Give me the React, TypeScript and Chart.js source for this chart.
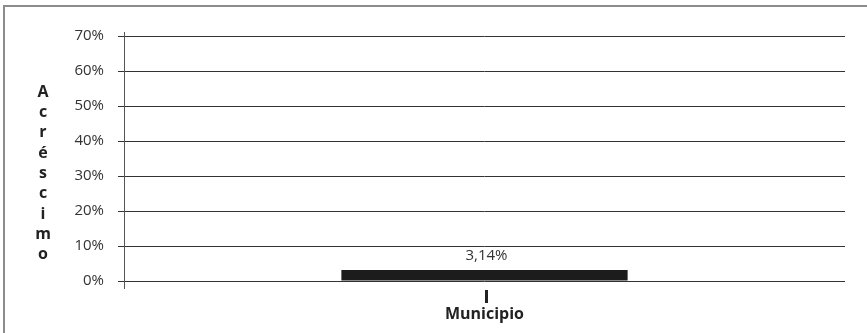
import React, { useEffect, useRef } from "react";
import { Chart, registerables } from "chart.js";

Chart.register(...registerables);

const categories = ["Municipio"];
const values = [3.14];
const valueLabels = ["3,14%"];
const yTicks = [0, 10, 20, 30, 40, 50, 60, 70];
const yTitle = "Acréscimo";

const FONT = "'Open Sans', 'DejaVu Sans', sans-serif";

const decorPlugin = {
  id: "decor",
  beforeDraw(chart: any) {
    const ctx = chart.ctx;
    ctx.save();
    ctx.fillStyle = "#ffffff";
    ctx.fillRect(0, 0, chart.width, chart.height);
    ctx.strokeStyle = "#8c8c8c";
    ctx.lineWidth = 2;
    ctx.strokeRect(4, 6, chart.width + 20, chart.height + 20);
    ctx.restore();
  },
  afterDraw(chart: any) {
    const ctx = chart.ctx;
    const area = chart.chartArea;
    const xs = chart.scales.x;
    ctx.save();
    // vertical axis line
    ctx.strokeStyle = "#555555";
    ctx.lineWidth = 1;
    ctx.beginPath();
    ctx.moveTo(area.left + 0.5, area.top - 4);
    ctx.lineTo(area.left + 0.5, area.bottom + 8);
    ctx.stroke();
    // y title, stacked letters
    ctx.fillStyle = "#222222";
    ctx.font = `bold 16px ${FONT}`;
    ctx.textAlign = "center";
    ctx.textBaseline = "middle";
    const letters = Array.from(yTitle);
    const step = 20.3;
    const mid = (area.top + area.bottom) / 2 + 15;
    const start = mid - ((letters.length - 1) * step) / 2;
    letters.forEach((ch, i) => ctx.fillText(ch, 43, start + i * step));
    // category tick mark
    categories.forEach((_, i) => {
      const cx = xs.getPixelForValue(i) + 2;
      ctx.fillStyle = "#222222";
      ctx.fillRect(cx - 1.5, area.bottom + 9, 3, 13);
    });
    // value labels
    const meta = chart.getDatasetMeta(0);
    ctx.font = `15px ${FONT}`;
    ctx.fillStyle = "#333333";
    ctx.textBaseline = "bottom";
    meta.data.forEach((bar: any, i: number) => {
      ctx.fillText(valueLabels[i], bar.x + 2, bar.y - 7);
    });
    ctx.restore();
  },
};

export default function App() {
  const ref = useRef<HTMLCanvasElement>(null);
  useEffect(() => {
    if (!ref.current) return;
    const chart = new Chart(ref.current, {
      type: "bar",
      data: {
        labels: categories,
        datasets: [
          {
            data: values,
            backgroundColor: "#1c1c1c",
            borderWidth: 0,
            barPercentage: 0.397,
            categoryPercentage: 1,
          },
        ],
      },
      options: {
        responsive: false,
        animation: false,
        layout: { padding: { top: 36, right: 22, left: 0, bottom: 0 } },
        plugins: {
          legend: { display: false },
          tooltip: { enabled: false },
          title: { display: false },
        },
        scales: {
          x: {
            grid: { display: false },
            border: { display: false },
            ticks: {
              font: { family: FONT, size: 16, weight: "bold" },
              color: "#222222",
              padding: 16,
            },
            afterFit: (s: any) => {
              s.height = 52;
            },
          },
          y: {
            min: 0,
            max: 70,
            afterBuildTicks: (s: any) => {
              s.ticks = yTicks.map((v) => ({ value: v }));
            },
            grid: {
              color: "#333333",
              lineWidth: 1,
              tickLength: 6,
              drawTicks: true,
            },
            border: { display: false },
            ticks: {
              font: { family: FONT, size: 15 },
              color: "#333333",
              padding: 14,
              callback: (v: any) => `${v}%`,
            },
            afterFit: (s: any) => {
              s.width = 124;
            },
          },
        },
      },
      plugins: [decorPlugin],
    });
    return () => chart.destroy();
  }, []);
  return (
    <div style={{ position: "fixed", left: 0, top: 0, width: 867, height: 333 }}>
      <canvas ref={ref} width={867} height={333} />
    </div>
  );
}
